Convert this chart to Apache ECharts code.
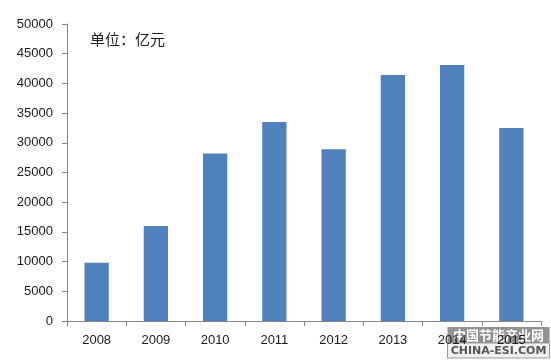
<!DOCTYPE html>
<html>
<head>
<meta charset="utf-8">
<script src="https://cdn.jsdelivr.net/npm/echarts@6/dist/echarts.min.js"></script>
<style>html,body{margin:0;padding:0;background:#fff}#c{width:551px;height:360px}</style>
</head>
<body>
<div id="c"></div>
<script>
const categories = ['2008','2009','2010','2011','2012','2013','2014','2015'];
const values = [9800, 16000, 28200, 33500, 28900, 41400, 43100, 32500];
const yTicks = { min: 0, max: 50000, interval: 5000 };
const unitLabel = '单位：亿元';

const chart = echarts.init(document.getElementById('c'));
chart.setOption({
  animation: false,
  backgroundColor: '#fff',
  grid: { left: 67, right: 10, top: 24, bottom: 39 },
  xAxis: {
    type: 'category',
    data: categories,
    axisLine: { lineStyle: { color: '#868686', width: 1 } },
    axisTick: { show: true, alignWithLabel: false, length: 5, lineStyle: { color: '#868686' } },
    axisLabel: { color: '#1a1a1a', fontSize: 13, fontFamily: 'Liberation Sans, Arial, sans-serif', margin: 13 }
  },
  yAxis: {
    type: 'value',
    min: yTicks.min, max: yTicks.max, interval: yTicks.interval,
    axisLine: { show: true, lineStyle: { color: '#868686', width: 1 } },
    axisTick: { show: true, length: 5, lineStyle: { color: '#868686' } },
    splitLine: { show: false },
    axisLabel: { color: '#1a1a1a', fontSize: 13, fontFamily: 'Liberation Sans, Arial, sans-serif', margin: 14, formatter: v => String(v) }
  },
  series: [{
    type: 'bar',
    data: values,
    barWidth: '41%',
    itemStyle: { color: '#4f81bd' }
  }],
  graphic: [
    { type: 'text', left: 90, top: 32, style: { text: unitLabel, fontSize: 15, fill: '#1a1a1a', fontFamily: 'Noto Sans CJK SC' } },
    { type: 'group', left: 447, top: 327, children: [
      { type: 'rect', shape: { x: 0, y: 0, width: 102, height: 16 }, style: { fill: 'rgba(110,110,110,0.75)' } },
      { type: 'rect', shape: { x: 0, y: 16, width: 102, height: 15 }, style: { fill: 'rgba(240,240,240,0.92)', stroke: '#999', lineWidth: 1 } },
      { type: 'text', x: 51, y: 8, style: { text: '中国节能产业网', fontSize: 13, fill: '#fff', fontWeight: 'bold', align: 'center', verticalAlign: 'middle', fontFamily: 'Noto Sans CJK SC' } },
      { type: 'text', x: 51, y: 24, style: { text: 'CHINA-ESI.COM', fontSize: 11, fill: '#555', fontWeight: 'bold', align: 'center', verticalAlign: 'middle', fontFamily: 'DejaVu Sans' } }
    ]}
  ]
});
</script>
</body>
</html>
